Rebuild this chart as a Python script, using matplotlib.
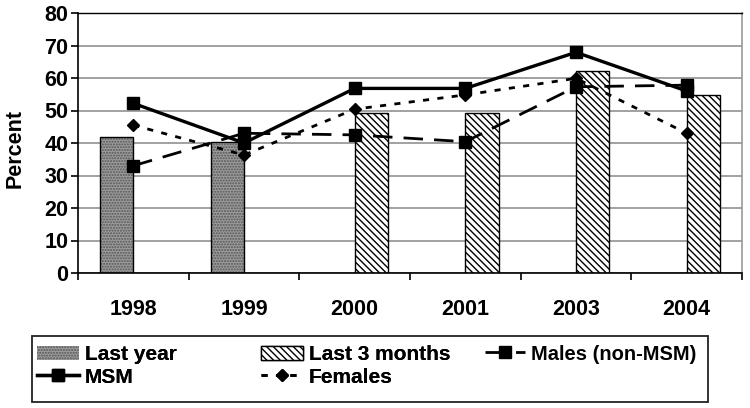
import matplotlib
matplotlib.use("Agg")
import matplotlib.pyplot as plt
from matplotlib.patches import Rectangle
import numpy as np

years = ["1998", "1999", "2000", "2001", "2003", "2004"]
last_year = [41.7, 40.2, np.nan, np.nan, np.nan, np.nan]
last_3_months = [np.nan, np.nan, 49.1, 49.1, 62.2, 54.9]
males_non_msm = [33.0, 43.0, 42.5, 40.4, 57.3, 57.8]
msm = [52.2, 40.0, 56.8, 56.8, 67.9, 56.0]
females = [45.5, 36.3, 50.4, 54.8, 59.9, 43.0]

plt.rcParams['font.family'] = ['Liberation Sans', 'DejaVu Sans']
plt.rcParams['font.weight'] = 'bold'
plt.rcParams['hatch.linewidth'] = 1.0

fig = plt.figure(figsize=(7.5, 4.08), dpi=100)
ax = fig.add_axes([78/750, 1-273/408, (742-78)/750, (273-13)/408])

x = np.arange(len(years))
w = 0.3
b1 = ax.bar(x - w/2, last_year, width=w, color='#9c9c9c', edgecolor='#555555',
            linewidth=0, hatch='......', label='Last year', zorder=2)
ax.bar(x - w/2, last_year, width=w, fill=False, edgecolor='black',
       linewidth=1.0, zorder=2.1)
b2 = ax.bar(x + w/2, last_3_months, width=w, color='white', edgecolor='black',
            linewidth=1.0, hatch='\\\\\\\\\\', label='Last 3 months', zorder=2)

l_msm, = ax.plot(x, msm, color='black', lw=2.4, marker='s', markersize=8,
                 label='MSM', zorder=4)
l_males, = ax.plot(x, males_non_msm, color='black', lw=2.0, marker='s',
                   markersize=8, dashes=(7, 4), label='Males (non-MSM)', zorder=4)
l_fem, = ax.plot(x, females, color='black', lw=2.0, marker='D', markersize=6,
                 dashes=(2.2, 3), label='Females', zorder=4)

ax.set_xlim(-0.5, len(years) - 0.5)
ax.set_ylim(0, 80)
ax.set_yticks(np.arange(0, 81, 10))
ax.set_xticks(x)
ax.set_xticklabels(years)
ax.set_xticks(np.arange(-0.5, len(years), 1.0), minor=True)
ax.tick_params(axis='x', which='major', length=0, pad=19, labelsize=15.5)
ax.tick_params(axis='x', which='minor', length=5, width=1.2, direction='out')
ax.tick_params(axis='y', length=5, width=1.2, pad=2, labelsize=15.5)
for lab in ax.get_xticklabels() + ax.get_yticklabels():
    lab.set_fontweight('bold')

ax.yaxis.grid(True, color='#9a9a9a', lw=1.3, zorder=0)
ax.set_axisbelow(True)
ax.spines['left'].set_linewidth(1.2)
ax.spines['bottom'].set_linewidth(1.2)
ax.spines['top'].set_color('black')
ax.spines['top'].set_linewidth(1.0)
ax.spines['right'].set_color('#9a9a9a')
ax.spines['right'].set_linewidth(1.2)

fig.text(15/750, 1-148/408, 'Percent', rotation=90, ha='center', va='center',
         fontsize=15.5, fontweight='bold')

# legend frame
fig.add_artist(Rectangle((32/750, 6/408), (708-32)/750, (402-336)/408,
                         transform=fig.transFigure, fill=False,
                         edgecolor='#222222', lw=1.3))

common = dict(loc='center left', frameon=False,
              handlelength=2.0, handletextpad=0.3, borderaxespad=0,
              labelspacing=0.15, borderpad=0)
ycen = 1 - 366/408
leg1 = fig.legend([b1, l_msm], ['Last year', 'MSM'],
                  bbox_to_anchor=(37/750, ycen),
                  prop={'size': 15, 'weight': 'bold'}, **common)
leg2 = fig.legend([b2, l_fem], ['Last 3 months', 'Females'],
                  bbox_to_anchor=(261/750, ycen),
                  prop={'size': 15, 'weight': 'bold'}, **common)
leg3 = fig.legend([l_males], ['Males (non-MSM)'],
                  bbox_to_anchor=(485/750, 1 - 354/408),
                  prop={'size': 14.5, 'weight': 'bold'}, **common)
fig.add_artist(leg1)
fig.add_artist(leg2)

fig.savefig('out.png', dpi=100)
